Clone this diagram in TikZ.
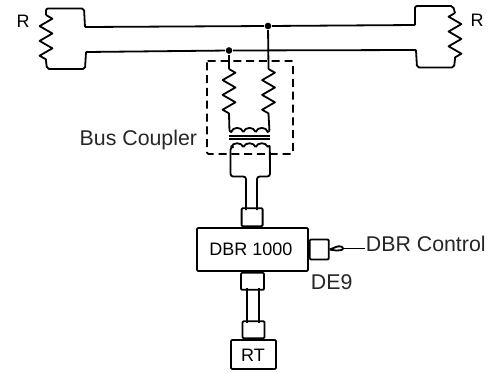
\documentclass[tikz,border=0pt]{standalone}
\usepackage{fontspec}
\setmainfont{Liberation Sans}
\usetikzlibrary{arrows,positioning,decorations.pathmorphing}

\begin{document}
\begin{tikzpicture}[x=0.75pt,y=-0.75pt,line width=1.35pt,line join=round,
	box/.style={draw,rounded corners=0.8pt,inner sep=0pt},
	junction/.style={circle,fill,inner sep=0pt,minimum size=5pt},
	tag/.style={inner sep=0pt,font=\fontsize{16}{18}\selectfont,text=black!85},
	smalltag/.style={inner sep=0pt,font=\fontsize{13.5}{15}\selectfont},
	resistor/.style={decorate,decoration={zigzag,segment length=11.1pt,amplitude=4.8pt}},
	resistormirror/.style={decorate,decoration={zigzag,segment length=11.1pt,amplitude=4.8pt,mirror}}]
	\useasboundingbox (0,0) rectangle (492,372);

	\node[box,minimum width=83.25pt,minimum height=32.25pt] (dbr) at (252.5,249.5) {};
	\node[smalltag] (dbr_text) at (251,249) {DBR 1000};
	\node[box,minimum width=15.75pt,minimum height=13.5pt,above=0pt of dbr.north,xshift=-0.3pt] (plug_up) {};
	\node[box,minimum width=17.25pt,minimum height=12.75pt,below=0pt of dbr.south] (plug_down) {};
	\node[box,minimum width=14.25pt,minimum height=15pt,right=0pt of dbr.east] (plug_de9) {};
	\node[box,minimum width=33.75pt,minimum height=21.75pt] (rt) at (253.5,354.5) {};
	\node[smalltag] (rt_text) at (253,355) {RT};
	\node[box,minimum width=16.5pt,minimum height=12.75pt,above=0pt of rt.north] (plug_rt) {};

	\node[junction] (tap_top) at (268,26) {};
	\node[junction] (tap_low) at (229,50.5) {};

	\node[smalltag] (r_left) at (23,21) {R};
	\node[smalltag] (r_right) at (477,20) {R};
	\node[tag,anchor=east] (coupler_text) at (198,140) {Bus Coupler};
	\node[tag,anchor=west] (control_text) at (365,244) {DBR Control};
	\node[tag,anchor=west] (de9_text) at (310,282) {DE9};

	\coordinate (bus_top_l) at (85,27);
	\coordinate (bus_top_r) at (415,25);
	\coordinate (bus_low_l) at (86,52);
	\coordinate (bus_low_r) at (416,50);
	\coordinate (r_left_a) at (46,15);
	\coordinate (r_left_b) at (46,61);
	\coordinate (r_right_a) at (455,13);
	\coordinate (r_right_b) at (455,59);

	\draw (bus_top_l) -- (tap_top) -- (bus_top_r);
	\draw (bus_low_l) -- (tap_low) -- (bus_low_r);
	\draw[rounded corners=1.5pt] (bus_top_l) -- (84,8.5) -- (46,8.5) -- (r_left_a);
	\draw[rounded corners=1.5pt] (bus_low_l) -- (85,69) -- (47,69) -- (r_left_b);
	\draw[rounded corners=1.5pt] (bus_top_r) -- (415,6) -- (453,6) -- (r_right_a);
	\draw[rounded corners=1.5pt] (bus_low_r) -- (417,67.5) -- (454,67.5) -- (r_right_b);
	\draw[resistor] (r_left_a) -- (r_left_b);
	\draw[resistormirror] (r_right_a) -- (r_right_b);

	\coordinate (coil_l_a) at (229,69);
	\coordinate (coil_l_b) at (229,114);
	\coordinate (coil_r_a) at (268.5,69);
	\coordinate (coil_r_b) at (268.5,114);
	\draw (tap_low) -- (coil_l_a);
	\draw (tap_top) -- (coil_r_a);
	\draw[resistor] (coil_l_a) -- (coil_l_b);
	\draw[resistor] (coil_r_a) -- (coil_r_b);
	\draw[rounded corners=1.5pt] (coil_l_b) -- (229.5,132) -- (231,132);
	\draw[rounded corners=1.5pt] (coil_r_b) -- (269.5,132) -- (268,132);
	\foreach \x in {231,243.3,255.6} {
		\draw (\x,132) .. controls (\x+2,126.5) and (\x+10.5,126.5) .. (\x+12.3,132);
		\draw (\x,147) .. controls (\x+2,142) and (\x+10.5,142) .. (\x+12.3,147);
	}
	\draw[line width=0.9pt] (229,136) -- (270,136) (229,139) -- (270,139);

	\draw[rounded corners=2pt] (231,147) -- (230.5,147) -- (230.5,176.5) -- (246,176.5) -- (246,210);
	\draw[rounded corners=2pt] (268,147) -- (269.8,144.5) -- (270,176.5) -- (257,176.5) -- (257,210);
	\draw (247,288) -- (247,323);
	\draw (259,288) -- (259,323);

	\draw[rounded corners=1pt,dash pattern=on 6pt off 3.6pt] (207,61) rectangle (293,154);

	\coordinate (lug_a) at (336,247);
	\coordinate (lug_b) at (336,250.5);
	\coordinate (lug_end) at (343,248.5);
	\draw (plug_de9.east) -- (lug_a) .. controls (339,245.5) and (343,246.5) .. (lug_end) .. controls (343,250) and (339,251) .. (lug_b) -- (plug_de9.east);
	\draw[line width=1pt] (lug_end) -- (control_text.west |- lug_end);
\end{tikzpicture}
\end{document}
